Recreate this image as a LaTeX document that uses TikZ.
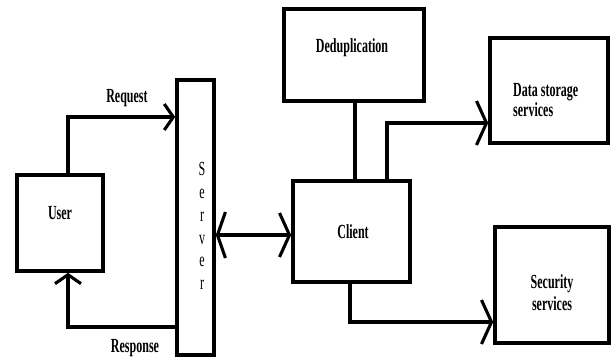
\documentclass[tikz,border=0pt]{standalone}
\usepackage{fontspec}
\newfontfamily\lbl[FakeStretch=0.6]{Liberation Serif}
\usetikzlibrary{arrows.meta}
\tikzset{
  box/.style={draw=black, line width=3.6pt, fill=white, inner sep=0pt},
  txt/.style={font=\lbl\bfseries\fontsize{20}{21}\selectfont, inner sep=0pt, align=center},
  conn/.style={line width=3.1pt, line join=miter},
  bigtip/.style={-{Straight Barb[length=10pt,width=44pt,line width=3.1pt]}},
  smalltip/.style={-{Straight Barb[length=9pt,width=26pt,line width=3.1pt]}},
  bothtip/.style={{Straight Barb[length=8pt,width=46pt,line width=3.1pt]}-{Straight Barb[length=10pt,width=44pt,line width=3.1pt]}}
}
\begin{document}
\begin{tikzpicture}[x=1pt,y=-1pt]
\useasboundingbox[fill=white] (0,0) rectangle (613,364);
% boxes
\node[box, minimum width=86pt, minimum height=96pt] (user) at (60,223) {};
\node[box, minimum width=37pt, minimum height=275pt] (server) at (195.5,217.5) {};
\node[box, minimum width=140pt, minimum height=92pt] (dedup) at (354,55) {};
\node[box, minimum width=117pt, minimum height=101pt] (client) at (351.5,231.5) {};
\node[box, minimum width=118pt, minimum height=105pt] (data) at (549,90.5) {};
\node[box, minimum width=114pt, minimum height=116pt] (sec) at (552,285) {};
% labels
\node[txt] (userlbl) at (60,213) {User};
\node[txt, font=\lbl\fontsize{20}{22.8}\selectfont] (serverlbl) at (202,226) {S\\e\\r\\v\\e\\r};
\node[txt] (deduplbl) at (352,48) {Deduplication};
\node[txt] (clientlbl) at (353,232) {Client};
\node[txt, align=left, anchor=west, font=\lbl\bfseries\fontsize{20}{17}\selectfont] (datalbl) at (513,100) {Data storage\\services};
\node[txt, font=\lbl\bfseries\fontsize{20}{22}\selectfont] (seclbl) at (552,293) {Security\\services};
\node[txt] (reqlbl) at (127,98) {Request};
\node[txt] (resplbl) at (135,348) {Response};
% coordinates
\coordinate (rq) at (68,117);
\coordinate (rs) at (68,327);
\coordinate (ds) at (387,123);
\coordinate (ss) at (350,322);
% connectors
\draw[conn, smalltip] (user.north -| rq) -- (rq) -- (rq -| server.west);
\draw[conn, smalltip] (server.west |- rs) -- (rs) -- (user.south -| rs);
\draw[conn, bothtip] (server.east |- 0,235) -- (client.west |- 0,235);
\draw[conn] (dedup.south -| 355,0) -- (client.north -| 355,0);
\draw[conn, bigtip] (client.north -| ds) -- (ds) -- (ds -| data.west);
\draw[conn, bigtip] (client.south -| ss) -- (ss) -- (ss -| sec.west);
\end{tikzpicture}
\end{document}
